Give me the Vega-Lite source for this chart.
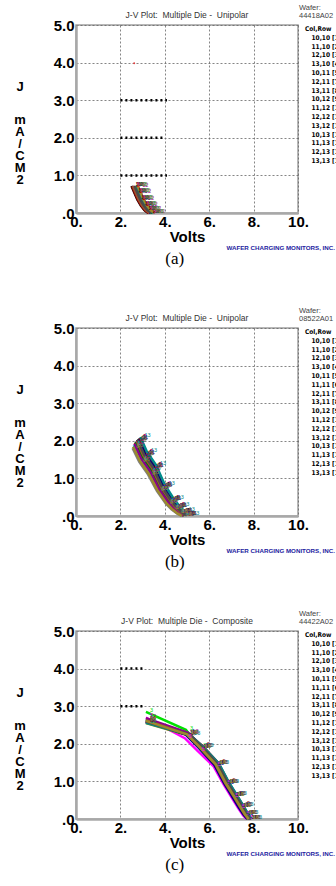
{
"$schema": "https://vega.github.io/schema/vega-lite/v6.json",
"background": "white",
"padding": {"left": 13, "top": 3, "right": 2, "bottom": 0},
"bounds": "flush",
"spacing": 115,
"resolve": {"scale": {"color": "independent"}},
"datasets": {
"a": [
{"d":"10,10 [1]","n":1,"v":2.50,"j":0.72},{"d":"10,10 [1]","n":1,"v":2.62,"j":0.55},{"d":"10,10 [1]","n":1,"v":2.76,"j":0.36},{"d":"10,10 [1]","n":1,"v":2.92,"j":0.20},{"d":"10,10 [1]","n":1,"v":3.08,"j":0.08},{"d":"10,10 [1]","n":1,"v":3.25,"j":0.0},
{"d":"11,10 [2]","n":2,"v":2.55,"j":0.70},{"d":"11,10 [2]","n":2,"v":2.67,"j":0.54},{"d":"11,10 [2]","n":2,"v":2.81,"j":0.35},{"d":"11,10 [2]","n":2,"v":2.97,"j":0.19},{"d":"11,10 [2]","n":2,"v":3.13,"j":0.07},{"d":"11,10 [2]","n":2,"v":3.30,"j":0.0},
{"d":"12,10 [3]","n":3,"v":2.62,"j":0.72},{"d":"12,10 [3]","n":3,"v":2.74,"j":0.56},{"d":"12,10 [3]","n":3,"v":2.88,"j":0.37},{"d":"12,10 [3]","n":3,"v":3.04,"j":0.21},{"d":"12,10 [3]","n":3,"v":3.20,"j":0.08},{"d":"12,10 [3]","n":3,"v":3.37,"j":0.0},
{"d":"13,10 [4]","n":4,"v":2.70,"j":0.71},{"d":"13,10 [4]","n":4,"v":2.82,"j":0.54},{"d":"13,10 [4]","n":4,"v":2.96,"j":0.35},{"d":"13,10 [4]","n":4,"v":3.12,"j":0.19},{"d":"13,10 [4]","n":4,"v":3.28,"j":0.07},{"d":"13,10 [4]","n":4,"v":3.45,"j":0.0},
{"d":"10,11 [5]","n":5,"v":2.58,"j":0.72},{"d":"10,11 [5]","n":5,"v":2.70,"j":0.55},{"d":"10,11 [5]","n":5,"v":2.84,"j":0.36},{"d":"10,11 [5]","n":5,"v":3.00,"j":0.20},{"d":"10,11 [5]","n":5,"v":3.16,"j":0.08},{"d":"10,11 [5]","n":5,"v":3.33,"j":0.0},
{"d":"12,11 [7]","n":7,"v":2.65,"j":0.70},{"d":"12,11 [7]","n":7,"v":2.77,"j":0.53},{"d":"12,11 [7]","n":7,"v":2.91,"j":0.34},{"d":"12,11 [7]","n":7,"v":3.07,"j":0.18},{"d":"12,11 [7]","n":7,"v":3.23,"j":0.07},{"d":"12,11 [7]","n":7,"v":3.40,"j":0.0},
{"d":"13,11 [8]","n":8,"v":2.75,"j":0.72},{"d":"13,11 [8]","n":8,"v":2.87,"j":0.56},{"d":"13,11 [8]","n":8,"v":3.01,"j":0.37},{"d":"13,11 [8]","n":8,"v":3.17,"j":0.21},{"d":"13,11 [8]","n":8,"v":3.33,"j":0.09},{"d":"13,11 [8]","n":8,"v":3.50,"j":0.0},
{"d":"10,12 [9]","n":9,"v":2.53,"j":0.71},{"d":"10,12 [9]","n":9,"v":2.65,"j":0.54},{"d":"10,12 [9]","n":9,"v":2.79,"j":0.35},{"d":"10,12 [9]","n":9,"v":2.95,"j":0.19},{"d":"10,12 [9]","n":9,"v":3.11,"j":0.07},{"d":"10,12 [9]","n":9,"v":3.28,"j":0.0},
{"d":"11,12 [10]","n":10,"v":2.68,"j":0.72},{"d":"11,12 [10]","n":10,"v":2.80,"j":0.55},{"d":"11,12 [10]","n":10,"v":2.94,"j":0.36},{"d":"11,12 [10]","n":10,"v":3.10,"j":0.20},{"d":"11,12 [10]","n":10,"v":3.26,"j":0.08},{"d":"11,12 [10]","n":10,"v":3.43,"j":0.0},
{"d":"12,12 [11]","n":11,"v":2.60,"j":0.71},{"d":"12,12 [11]","n":11,"v":2.72,"j":0.55},{"d":"12,12 [11]","n":11,"v":2.86,"j":0.36},{"d":"12,12 [11]","n":11,"v":3.02,"j":0.20},{"d":"12,12 [11]","n":11,"v":3.18,"j":0.08},{"d":"12,12 [11]","n":11,"v":3.35,"j":0.0},
{"d":"13,12 [12]","n":12,"v":2.80,"j":0.70},{"d":"13,12 [12]","n":12,"v":2.92,"j":0.54},{"d":"13,12 [12]","n":12,"v":3.06,"j":0.35},{"d":"13,12 [12]","n":12,"v":3.22,"j":0.19},{"d":"13,12 [12]","n":12,"v":3.38,"j":0.07},{"d":"13,12 [12]","n":12,"v":3.55,"j":0.0},
{"d":"10,13 [13]","n":13,"v":2.72,"j":0.72},{"d":"10,13 [13]","n":13,"v":2.84,"j":0.56},{"d":"10,13 [13]","n":13,"v":2.98,"j":0.37},{"d":"10,13 [13]","n":13,"v":3.14,"j":0.21},{"d":"10,13 [13]","n":13,"v":3.30,"j":0.09},{"d":"10,13 [13]","n":13,"v":3.47,"j":0.0},
{"d":"11,13 [14]","n":14,"v":2.56,"j":0.72},{"d":"11,13 [14]","n":14,"v":2.68,"j":0.55},{"d":"11,13 [14]","n":14,"v":2.82,"j":0.36},{"d":"11,13 [14]","n":14,"v":2.98,"j":0.20},{"d":"11,13 [14]","n":14,"v":3.14,"j":0.08},{"d":"11,13 [14]","n":14,"v":3.31,"j":0.0},
{"d":"12,13 [15]","n":15,"v":2.64,"j":0.71},{"d":"12,13 [15]","n":15,"v":2.76,"j":0.54},{"d":"12,13 [15]","n":15,"v":2.90,"j":0.35},{"d":"12,13 [15]","n":15,"v":3.06,"j":0.19},{"d":"12,13 [15]","n":15,"v":3.22,"j":0.07},{"d":"12,13 [15]","n":15,"v":3.39,"j":0.0},
{"d":"13,13 [16]","n":16,"v":2.78,"j":0.72},{"d":"13,13 [16]","n":16,"v":2.90,"j":0.55},{"d":"13,13 [16]","n":16,"v":3.04,"j":0.36},{"d":"13,13 [16]","n":16,"v":3.20,"j":0.20},{"d":"13,13 [16]","n":16,"v":3.36,"j":0.08},{"d":"13,13 [16]","n":16,"v":3.53,"j":0.0}
],
"b": [
{"d":"10,10 [1]","n":1,"v":2.75,"j":2.02},{"d":"10,10 [1]","n":1,"v":3.05,"j":1.62},{"d":"10,10 [1]","n":1,"v":3.45,"j":1.28},{"d":"10,10 [1]","n":1,"v":3.85,"j":0.78},{"d":"10,10 [1]","n":1,"v":4.25,"j":0.42},{"d":"10,10 [1]","n":1,"v":4.50,"j":0.24},{"d":"10,10 [1]","n":1,"v":4.75,"j":0.10},{"d":"10,10 [1]","n":1,"v":4.95,"j":0.02},
{"d":"11,10 [2]","n":2,"v":2.65,"j":1.95},{"d":"11,10 [2]","n":2,"v":2.95,"j":1.56},{"d":"11,10 [2]","n":2,"v":3.35,"j":1.22},{"d":"11,10 [2]","n":2,"v":3.75,"j":0.74},{"d":"11,10 [2]","n":2,"v":4.15,"j":0.40},{"d":"11,10 [2]","n":2,"v":4.40,"j":0.22},{"d":"11,10 [2]","n":2,"v":4.65,"j":0.09},{"d":"11,10 [2]","n":2,"v":4.85,"j":0.01},
{"d":"12,10 [3]","n":3,"v":2.83,"j":2.06},{"d":"12,10 [3]","n":3,"v":3.13,"j":1.66},{"d":"12,10 [3]","n":3,"v":3.53,"j":1.32},{"d":"12,10 [3]","n":3,"v":3.93,"j":0.80},{"d":"12,10 [3]","n":3,"v":4.33,"j":0.44},{"d":"12,10 [3]","n":3,"v":4.58,"j":0.25},{"d":"12,10 [3]","n":3,"v":4.83,"j":0.11},{"d":"12,10 [3]","n":3,"v":5.03,"j":0.02},
{"d":"13,10 [4]","n":4,"v":2.70,"j":1.98},{"d":"13,10 [4]","n":4,"v":3.00,"j":1.59},{"d":"13,10 [4]","n":4,"v":3.40,"j":1.25},{"d":"13,10 [4]","n":4,"v":3.80,"j":0.76},{"d":"13,10 [4]","n":4,"v":4.20,"j":0.41},{"d":"13,10 [4]","n":4,"v":4.45,"j":0.23},{"d":"13,10 [4]","n":4,"v":4.70,"j":0.09},{"d":"13,10 [4]","n":4,"v":4.90,"j":0.02},
{"d":"10,11 [5]","n":5,"v":2.87,"j":2.08},{"d":"10,11 [5]","n":5,"v":3.17,"j":1.68},{"d":"10,11 [5]","n":5,"v":3.57,"j":1.34},{"d":"10,11 [5]","n":5,"v":3.97,"j":0.82},{"d":"10,11 [5]","n":5,"v":4.37,"j":0.45},{"d":"10,11 [5]","n":5,"v":4.62,"j":0.26},{"d":"10,11 [5]","n":5,"v":4.87,"j":0.11},{"d":"10,11 [5]","n":5,"v":5.07,"j":0.03},
{"d":"11,11 [6]","n":6,"v":2.60,"j":1.88},{"d":"11,11 [6]","n":6,"v":2.90,"j":1.50},{"d":"11,11 [6]","n":6,"v":3.30,"j":1.16},{"d":"11,11 [6]","n":6,"v":3.70,"j":0.70},{"d":"11,11 [6]","n":6,"v":4.10,"j":0.36},{"d":"11,11 [6]","n":6,"v":4.35,"j":0.20},{"d":"11,11 [6]","n":6,"v":4.60,"j":0.08},{"d":"11,11 [6]","n":6,"v":4.80,"j":0.01},
{"d":"12,11 [7]","n":7,"v":2.79,"j":2.04},{"d":"12,11 [7]","n":7,"v":3.09,"j":1.64},{"d":"12,11 [7]","n":7,"v":3.49,"j":1.30},{"d":"12,11 [7]","n":7,"v":3.89,"j":0.79},{"d":"12,11 [7]","n":7,"v":4.29,"j":0.43},{"d":"12,11 [7]","n":7,"v":4.54,"j":0.24},{"d":"12,11 [7]","n":7,"v":4.79,"j":0.10},{"d":"12,11 [7]","n":7,"v":4.99,"j":0.02},
{"d":"13,11 [8]","n":8,"v":2.55,"j":1.80},{"d":"13,11 [8]","n":8,"v":2.85,"j":1.44},{"d":"13,11 [8]","n":8,"v":3.25,"j":1.10},{"d":"13,11 [8]","n":8,"v":3.65,"j":0.66},{"d":"13,11 [8]","n":8,"v":4.05,"j":0.33},{"d":"13,11 [8]","n":8,"v":4.30,"j":0.18},{"d":"13,11 [8]","n":8,"v":4.55,"j":0.07},{"d":"13,11 [8]","n":8,"v":4.75,"j":0.0},
{"d":"10,12 [9]","n":9,"v":2.85,"j":2.07},{"d":"10,12 [9]","n":9,"v":3.15,"j":1.67},{"d":"10,12 [9]","n":9,"v":3.55,"j":1.33},{"d":"10,12 [9]","n":9,"v":3.95,"j":0.81},{"d":"10,12 [9]","n":9,"v":4.35,"j":0.45},{"d":"10,12 [9]","n":9,"v":4.60,"j":0.26},{"d":"10,12 [9]","n":9,"v":4.85,"j":0.11},{"d":"10,12 [9]","n":9,"v":5.05,"j":0.03},
{"d":"11,12 [10]","n":10,"v":2.67,"j":1.96},{"d":"11,12 [10]","n":10,"v":2.97,"j":1.57},{"d":"11,12 [10]","n":10,"v":3.37,"j":1.23},{"d":"11,12 [10]","n":10,"v":3.77,"j":0.75},{"d":"11,12 [10]","n":10,"v":4.17,"j":0.40},{"d":"11,12 [10]","n":10,"v":4.42,"j":0.22},{"d":"11,12 [10]","n":10,"v":4.67,"j":0.09},{"d":"11,12 [10]","n":10,"v":4.87,"j":0.01},
{"d":"12,12 [11]","n":11,"v":2.81,"j":2.05},{"d":"12,12 [11]","n":11,"v":3.11,"j":1.65},{"d":"12,12 [11]","n":11,"v":3.51,"j":1.31},{"d":"12,12 [11]","n":11,"v":3.91,"j":0.80},{"d":"12,12 [11]","n":11,"v":4.31,"j":0.43},{"d":"12,12 [11]","n":11,"v":4.56,"j":0.25},{"d":"12,12 [11]","n":11,"v":4.81,"j":0.10},{"d":"12,12 [11]","n":11,"v":5.01,"j":0.02},
{"d":"13,12 [12]","n":12,"v":2.63,"j":1.92},{"d":"13,12 [12]","n":12,"v":2.93,"j":1.53},{"d":"13,12 [12]","n":12,"v":3.33,"j":1.19},{"d":"13,12 [12]","n":12,"v":3.73,"j":0.72},{"d":"13,12 [12]","n":12,"v":4.13,"j":0.38},{"d":"13,12 [12]","n":12,"v":4.38,"j":0.21},{"d":"13,12 [12]","n":12,"v":4.63,"j":0.08},{"d":"13,12 [12]","n":12,"v":4.83,"j":0.01},
{"d":"10,13 [13]","n":13,"v":2.90,"j":2.10},{"d":"10,13 [13]","n":13,"v":3.20,"j":1.70},{"d":"10,13 [13]","n":13,"v":3.60,"j":1.36},{"d":"10,13 [13]","n":13,"v":4.00,"j":0.83},{"d":"10,13 [13]","n":13,"v":4.40,"j":0.46},{"d":"10,13 [13]","n":13,"v":4.65,"j":0.27},{"d":"10,13 [13]","n":13,"v":4.90,"j":0.12},{"d":"10,13 [13]","n":13,"v":5.10,"j":0.03},
{"d":"11,13 [14]","n":14,"v":2.73,"j":2.00},{"d":"11,13 [14]","n":14,"v":3.03,"j":1.61},{"d":"11,13 [14]","n":14,"v":3.43,"j":1.27},{"d":"11,13 [14]","n":14,"v":3.83,"j":0.77},{"d":"11,13 [14]","n":14,"v":4.23,"j":0.42},{"d":"11,13 [14]","n":14,"v":4.48,"j":0.23},{"d":"11,13 [14]","n":14,"v":4.73,"j":0.10},{"d":"11,13 [14]","n":14,"v":4.93,"j":0.02},
{"d":"12,13 [15]","n":15,"v":2.77,"j":2.03},{"d":"12,13 [15]","n":15,"v":3.07,"j":1.63},{"d":"12,13 [15]","n":15,"v":3.47,"j":1.29},{"d":"12,13 [15]","n":15,"v":3.87,"j":0.78},{"d":"12,13 [15]","n":15,"v":4.27,"j":0.42},{"d":"12,13 [15]","n":15,"v":4.52,"j":0.24},{"d":"12,13 [15]","n":15,"v":4.77,"j":0.10},{"d":"12,13 [15]","n":15,"v":4.97,"j":0.02},
{"d":"13,13 [16]","n":16,"v":2.57,"j":1.84},{"d":"13,13 [16]","n":16,"v":2.87,"j":1.47},{"d":"13,13 [16]","n":16,"v":3.27,"j":1.13},{"d":"13,13 [16]","n":16,"v":3.67,"j":0.68},{"d":"13,13 [16]","n":16,"v":4.07,"j":0.34},{"d":"13,13 [16]","n":16,"v":4.32,"j":0.19},{"d":"13,13 [16]","n":16,"v":4.57,"j":0.07},{"d":"13,13 [16]","n":16,"v":4.77,"j":0.0}
],
"c": [
{"d":"10,10 [1]","n":1,"v":3.15,"j":2.58},{"d":"10,10 [1]","n":1,"v":5.00,"j":2.24},{"d":"10,10 [1]","n":1,"v":5.60,"j":1.90},{"d":"10,10 [1]","n":1,"v":6.30,"j":1.45},{"d":"10,10 [1]","n":1,"v":6.75,"j":0.95},{"d":"10,10 [1]","n":1,"v":7.10,"j":0.62},{"d":"10,10 [1]","n":1,"v":7.40,"j":0.33},{"d":"10,10 [1]","n":1,"v":7.62,"j":0.12},{"d":"10,10 [1]","n":1,"v":7.78,"j":0.0},
{"d":"11,10 [2]","n":2,"v":3.15,"j":2.62},{"d":"11,10 [2]","n":2,"v":5.05,"j":2.26},{"d":"11,10 [2]","n":2,"v":5.65,"j":1.91},{"d":"11,10 [2]","n":2,"v":6.35,"j":1.46},{"d":"11,10 [2]","n":2,"v":6.80,"j":0.96},{"d":"11,10 [2]","n":2,"v":7.15,"j":0.63},{"d":"11,10 [2]","n":2,"v":7.45,"j":0.34},{"d":"11,10 [2]","n":2,"v":7.67,"j":0.12},{"d":"11,10 [2]","n":2,"v":7.83,"j":0.0},
{"d":"12,10 [3]","n":3,"v":3.15,"j":2.85},{"d":"12,10 [3]","n":3,"v":4.95,"j":2.37},{"d":"12,10 [3]","n":3,"v":5.55,"j":1.92},{"d":"12,10 [3]","n":3,"v":6.25,"j":1.44},{"d":"12,10 [3]","n":3,"v":6.70,"j":0.94},{"d":"12,10 [3]","n":3,"v":7.05,"j":0.61},{"d":"12,10 [3]","n":3,"v":7.35,"j":0.32},{"d":"12,10 [3]","n":3,"v":7.57,"j":0.11},{"d":"12,10 [3]","n":3,"v":7.73,"j":0.0},
{"d":"13,10 [4]","n":4,"v":3.15,"j":2.60},{"d":"13,10 [4]","n":4,"v":5.10,"j":2.25},{"d":"13,10 [4]","n":4,"v":5.70,"j":1.92},{"d":"13,10 [4]","n":4,"v":6.40,"j":1.47},{"d":"13,10 [4]","n":4,"v":6.85,"j":0.97},{"d":"13,10 [4]","n":4,"v":7.20,"j":0.64},{"d":"13,10 [4]","n":4,"v":7.50,"j":0.35},{"d":"13,10 [4]","n":4,"v":7.72,"j":0.13},{"d":"13,10 [4]","n":4,"v":7.88,"j":0.0},
{"d":"10,11 [5]","n":5,"v":3.15,"j":2.70},{"d":"10,11 [5]","n":5,"v":4.90,"j":2.15},{"d":"10,11 [5]","n":5,"v":5.50,"j":1.80},{"d":"10,11 [5]","n":5,"v":6.20,"j":1.40},{"d":"10,11 [5]","n":5,"v":6.65,"j":0.92},{"d":"10,11 [5]","n":5,"v":7.00,"j":0.58},{"d":"10,11 [5]","n":5,"v":7.30,"j":0.30},{"d":"10,11 [5]","n":5,"v":7.52,"j":0.10},{"d":"10,11 [5]","n":5,"v":7.68,"j":0.0},
{"d":"11,11 [6]","n":6,"v":3.15,"j":2.66},{"d":"11,11 [6]","n":6,"v":5.02,"j":2.28},{"d":"11,11 [6]","n":6,"v":5.62,"j":1.91},{"d":"11,11 [6]","n":6,"v":6.32,"j":1.46},{"d":"11,11 [6]","n":6,"v":6.77,"j":0.96},{"d":"11,11 [6]","n":6,"v":7.12,"j":0.63},{"d":"11,11 [6]","n":6,"v":7.42,"j":0.34},{"d":"11,11 [6]","n":6,"v":7.64,"j":0.12},{"d":"11,11 [6]","n":6,"v":7.80,"j":0.0},
{"d":"12,11 [7]","n":7,"v":3.15,"j":2.55},{"d":"12,11 [7]","n":7,"v":5.08,"j":2.22},{"d":"12,11 [7]","n":7,"v":5.68,"j":1.89},{"d":"12,11 [7]","n":7,"v":6.38,"j":1.45},{"d":"12,11 [7]","n":7,"v":6.83,"j":0.95},{"d":"12,11 [7]","n":7,"v":7.18,"j":0.62},{"d":"12,11 [7]","n":7,"v":7.48,"j":0.33},{"d":"12,11 [7]","n":7,"v":7.70,"j":0.12},{"d":"12,11 [7]","n":7,"v":7.86,"j":0.0},
{"d":"13,11 [8]","n":8,"v":3.15,"j":2.62},{"d":"13,11 [8]","n":8,"v":4.97,"j":2.26},{"d":"13,11 [8]","n":8,"v":5.57,"j":1.90},{"d":"13,11 [8]","n":8,"v":6.27,"j":1.45},{"d":"13,11 [8]","n":8,"v":6.72,"j":0.95},{"d":"13,11 [8]","n":8,"v":7.07,"j":0.62},{"d":"13,11 [8]","n":8,"v":7.37,"j":0.33},{"d":"13,11 [8]","n":8,"v":7.59,"j":0.12},{"d":"13,11 [8]","n":8,"v":7.75,"j":0.0},
{"d":"10,12 [9]","n":9,"v":3.15,"j":2.58},{"d":"10,12 [9]","n":9,"v":5.12,"j":2.24},{"d":"10,12 [9]","n":9,"v":5.72,"j":1.93},{"d":"10,12 [9]","n":9,"v":6.42,"j":1.48},{"d":"10,12 [9]","n":9,"v":6.87,"j":0.98},{"d":"10,12 [9]","n":9,"v":7.22,"j":0.65},{"d":"10,12 [9]","n":9,"v":7.52,"j":0.36},{"d":"10,12 [9]","n":9,"v":7.74,"j":0.13},{"d":"10,12 [9]","n":9,"v":7.90,"j":0.0},
{"d":"11,12 [10]","n":10,"v":3.15,"j":2.64},{"d":"11,12 [10]","n":10,"v":5.04,"j":2.27},{"d":"11,12 [10]","n":10,"v":5.64,"j":1.90},{"d":"11,12 [10]","n":10,"v":6.34,"j":1.45},{"d":"11,12 [10]","n":10,"v":6.79,"j":0.95},{"d":"11,12 [10]","n":10,"v":7.14,"j":0.62},{"d":"11,12 [10]","n":10,"v":7.44,"j":0.33},{"d":"11,12 [10]","n":10,"v":7.66,"j":0.12},{"d":"11,12 [10]","n":10,"v":7.82,"j":0.0},
{"d":"12,12 [11]","n":11,"v":3.15,"j":2.60},{"d":"12,12 [11]","n":11,"v":4.93,"j":2.25},{"d":"12,12 [11]","n":11,"v":5.53,"j":1.89},{"d":"12,12 [11]","n":11,"v":6.23,"j":1.44},{"d":"12,12 [11]","n":11,"v":6.68,"j":0.94},{"d":"12,12 [11]","n":11,"v":7.03,"j":0.60},{"d":"12,12 [11]","n":11,"v":7.33,"j":0.31},{"d":"12,12 [11]","n":11,"v":7.55,"j":0.11},{"d":"12,12 [11]","n":11,"v":7.71,"j":0.0},
{"d":"13,12 [12]","n":12,"v":3.15,"j":2.68},{"d":"13,12 [12]","n":12,"v":5.06,"j":2.29},{"d":"13,12 [12]","n":12,"v":5.66,"j":1.92},{"d":"13,12 [12]","n":12,"v":6.36,"j":1.47},{"d":"13,12 [12]","n":12,"v":6.81,"j":0.97},{"d":"13,12 [12]","n":12,"v":7.16,"j":0.64},{"d":"13,12 [12]","n":12,"v":7.46,"j":0.35},{"d":"13,12 [12]","n":12,"v":7.68,"j":0.13},{"d":"13,12 [12]","n":12,"v":7.84,"j":0.0},
{"d":"10,13 [13]","n":13,"v":3.15,"j":2.56},{"d":"10,13 [13]","n":13,"v":5.14,"j":2.23},{"d":"10,13 [13]","n":13,"v":5.74,"j":1.91},{"d":"10,13 [13]","n":13,"v":6.44,"j":1.47},{"d":"10,13 [13]","n":13,"v":6.89,"j":0.97},{"d":"10,13 [13]","n":13,"v":7.24,"j":0.64},{"d":"10,13 [13]","n":13,"v":7.54,"j":0.35},{"d":"10,13 [13]","n":13,"v":7.76,"j":0.13},{"d":"10,13 [13]","n":13,"v":7.92,"j":0.0},
{"d":"11,13 [14]","n":14,"v":3.15,"j":2.63},{"d":"11,13 [14]","n":14,"v":4.98,"j":2.26},{"d":"11,13 [14]","n":14,"v":5.58,"j":1.90},{"d":"11,13 [14]","n":14,"v":6.28,"j":1.45},{"d":"11,13 [14]","n":14,"v":6.73,"j":0.95},{"d":"11,13 [14]","n":14,"v":7.08,"j":0.62},{"d":"11,13 [14]","n":14,"v":7.38,"j":0.33},{"d":"11,13 [14]","n":14,"v":7.60,"j":0.12},{"d":"11,13 [14]","n":14,"v":7.76,"j":0.0},
{"d":"12,13 [15]","n":15,"v":3.15,"j":2.59},{"d":"12,13 [15]","n":15,"v":5.09,"j":2.25},{"d":"12,13 [15]","n":15,"v":5.69,"j":1.91},{"d":"12,13 [15]","n":15,"v":6.39,"j":1.46},{"d":"12,13 [15]","n":15,"v":6.84,"j":0.96},{"d":"12,13 [15]","n":15,"v":7.19,"j":0.63},{"d":"12,13 [15]","n":15,"v":7.49,"j":0.34},{"d":"12,13 [15]","n":15,"v":7.71,"j":0.12},{"d":"12,13 [15]","n":15,"v":7.87,"j":0.0},
{"d":"13,13 [16]","n":16,"v":3.15,"j":2.61},{"d":"13,13 [16]","n":16,"v":5.00,"j":2.25},{"d":"13,13 [16]","n":16,"v":5.60,"j":1.90},{"d":"13,13 [16]","n":16,"v":6.30,"j":1.45},{"d":"13,13 [16]","n":16,"v":6.75,"j":0.95},{"d":"13,13 [16]","n":16,"v":7.10,"j":0.62},{"d":"13,13 [16]","n":16,"v":7.40,"j":0.33},{"d":"13,13 [16]","n":16,"v":7.62,"j":0.12},{"d":"13,13 [16]","n":16,"v":7.78,"j":0.0}
]
},
"vconcat": [
{
"width": 222, "height": 188,
"layer": [
{"data": {"values": [{"g":1,"v":2.0,"j":1.0},{"g":1,"v":4.1,"j":1.0},{"g":2,"v":2.0,"j":2.0},{"g":2,"v":4.0,"j":2.0},{"g":3,"v":2.0,"j":3.0},{"g":3,"v":4.1,"j":3.0}]},
 "mark": {"type": "line", "color": "#000", "strokeWidth": 2.5, "strokeDash": [2, 3]},
 "encoding": {"x": {"field": "v", "type": "quantitative", "scale": {"domain": [0, 10], "nice": false, "zero": false}, "axis": {"values": [0,2,4,6,8,10], "labelExpr": "datum.value + '.'", "title": "Volts", "titleFontSize": 15, "titlePadding": 0, "labelPadding": 1, "labelFlush": false, "labelOverlap": false}},
  "y": {"field": "j", "type": "quantitative", "scale": {"domain": [0, 5], "nice": false, "zero": false}, "axis": {"values": [0,1,2,3,4,5], "labelExpr": "datum.value == 0 ? '.0' : format(datum.value, '.1f')", "title": null, "labelFlush": false, "labelOverlap": false}},
  "detail": {"field": "g"}}},
{"data": {"values": [{"v": 2.62, "j": 3.98}]}, "mark": {"type": "point", "filled": true, "color": "#e04040", "size": 4, "opacity": 1},
 "encoding": {"x": {"field": "v", "type": "quantitative", "scale": {"domain": [0, 10], "nice": false, "zero": false}, "axis": {"values": [0,2,4,6,8,10], "labelExpr": "datum.value + '.'", "title": "Volts", "titleFontSize": 15, "titlePadding": 0, "labelPadding": 1, "labelFlush": false, "labelOverlap": false}}, "y": {"field": "j", "type": "quantitative", "scale": {"domain": [0, 5], "nice": false, "zero": false}, "axis": {"values": [0,1,2,3,4,5], "labelExpr": "datum.value == 0 ? '.0' : format(datum.value, '.1f')", "title": null, "labelFlush": false, "labelOverlap": false}}}},
{"data": {"name": "a"}, "mark": {"type": "line", "strokeWidth": 2.5},
 "encoding": {"x": {"field": "v", "type": "quantitative", "scale": {"domain": [0, 10], "nice": false, "zero": false}, "axis": {"values": [0,2,4,6,8,10], "labelExpr": "datum.value + '.'", "title": "Volts", "titleFontSize": 15, "titlePadding": 0, "labelPadding": 1, "labelFlush": false, "labelOverlap": false}}, "y": {"field": "j", "type": "quantitative", "scale": {"domain": [0, 5], "nice": false, "zero": false}, "axis": {"values": [0,1,2,3,4,5], "labelExpr": "datum.value == 0 ? '.0' : format(datum.value, '.1f')", "title": null, "labelFlush": false, "labelOverlap": false}},
  "color": {"field": "d", "type": "nominal",
   "scale": {"domain": ["10,10 [1]","11,10 [2]","12,10 [3]","13,10 [4]","10,11 [5]","12,11 [7]","13,11 [8]","10,12 [9]","11,12 [10]","12,12 [11]","13,12 [12]","10,13 [13]","11,13 [14]","12,13 [15]","13,13 [16]"],
             "range": ["#000000","#ff0000","#00e000","#0000ff","#ff00ff","#8b8b00","#7f7f7f","#8b0000","#007f00","#00007f","#8b008b","#008b8b","#a0522d","#4b4b4b","#9c8a2c"]},
   "legend": {"title": "Col,Row", "labelExpr": "slice(datum.label, 0, 9)"}}}},
{"data": {"name": "a"}, "mark": {"type": "text", "fontSize": 5.5, "dx": 4, "dy": -2, "align": "left"},
 "encoding": {"x": {"field": "v", "type": "quantitative", "scale": {"domain": [0, 10], "nice": false, "zero": false}, "axis": {"values": [0,2,4,6,8,10], "labelExpr": "datum.value + '.'", "title": "Volts", "titleFontSize": 15, "titlePadding": 0, "labelPadding": 1, "labelFlush": false, "labelOverlap": false}}, "y": {"field": "j", "type": "quantitative", "scale": {"domain": [0, 5], "nice": false, "zero": false}, "axis": {"values": [0,1,2,3,4,5], "labelExpr": "datum.value == 0 ? '.0' : format(datum.value, '.1f')", "title": null, "labelFlush": false, "labelOverlap": false}},
  "text": {"field": "n"}, "color": {"field": "d", "type": "nominal"}}},
{"data": {"values": [{}]}, "mark": {"type": "text", "align": "center", "baseline": "middle", "fontSize": 8.5, "color": "#333", "dy": -10},
 "encoding": {"x": {"datum": 5, "type": "quantitative", "scale": {"domain": [0, 10], "nice": false, "zero": false}, "axis": {"values": [0,2,4,6,8,10], "labelExpr": "datum.value + '.'", "title": "Volts", "titleFontSize": 15, "titlePadding": 0, "labelPadding": 1, "labelFlush": false, "labelOverlap": false}}, "y": {"datum": 5, "type": "quantitative", "scale": {"domain": [0, 5], "nice": false, "zero": false}, "axis": {"values": [0,1,2,3,4,5], "labelExpr": "datum.value == 0 ? '.0' : format(datum.value, '.1f')", "title": null, "labelFlush": false, "labelOverlap": false}}, "text": {"value": "J-V Plot:\u00a0 Multiple Die -\u00a0 Unipolar"}}},
{"data": {"values": [{}]}, "mark": {"type": "text", "align": "center", "baseline": "middle", "fontSize": 13, "fontWeight": "bold", "color": "#000"},
 "encoding": {"x": {"datum": -2.52, "type": "quantitative", "scale": {"domain": [0, 10], "nice": false, "zero": false}, "axis": {"values": [0,2,4,6,8,10], "labelExpr": "datum.value + '.'", "title": "Volts", "titleFontSize": 15, "titlePadding": 0, "labelPadding": 1, "labelFlush": false, "labelOverlap": false}}, "y": {"datum": 3.35, "type": "quantitative", "scale": {"domain": [0, 5], "nice": false, "zero": false}, "axis": {"values": [0,1,2,3,4,5], "labelExpr": "datum.value == 0 ? '.0' : format(datum.value, '.1f')", "title": null, "labelFlush": false, "labelOverlap": false}},
  "text": {"value": "J"}}},
{"data": {"values": [{}]}, "mark": {"type": "text", "align": "center", "baseline": "top", "fontSize": 13, "fontWeight": "bold", "color": "#000", "lineHeight": 12},
 "encoding": {"x": {"datum": -2.52, "type": "quantitative", "scale": {"domain": [0, 10], "nice": false, "zero": false}, "axis": {"values": [0,2,4,6,8,10], "labelExpr": "datum.value + '.'", "title": "Volts", "titleFontSize": 15, "titlePadding": 0, "labelPadding": 1, "labelFlush": false, "labelOverlap": false}}, "y": {"datum": 2.63, "type": "quantitative", "scale": {"domain": [0, 5], "nice": false, "zero": false}, "axis": {"values": [0,1,2,3,4,5], "labelExpr": "datum.value == 0 ? '.0' : format(datum.value, '.1f')", "title": null, "labelFlush": false, "labelOverlap": false}},
  "text": {"value": ["m", "A", "/", "C", "M", "2"]}}},
{"data": {"values": [{}]}, "mark": {"type": "text", "align": "left", "baseline": "top", "dx": 1, "dy": -21, "fontSize": 7.5, "color": "#444", "lineHeight": 8},
 "encoding": {"x": {"datum": 10, "type": "quantitative", "scale": {"domain": [0, 10], "nice": false, "zero": false}, "axis": {"values": [0,2,4,6,8,10], "labelExpr": "datum.value + '.'", "title": "Volts", "titleFontSize": 15, "titlePadding": 0, "labelPadding": 1, "labelFlush": false, "labelOverlap": false}}, "y": {"datum": 5, "type": "quantitative", "scale": {"domain": [0, 5], "nice": false, "zero": false}, "axis": {"values": [0,1,2,3,4,5], "labelExpr": "datum.value == 0 ? '.0' : format(datum.value, '.1f')", "title": null, "labelFlush": false, "labelOverlap": false}}, "text": {"value": ["Wafer:", "44418A02"]}}},
{"data": {"values": [{}]}, "mark": {"type": "text", "align": "right", "baseline": "middle", "dx": 37, "dy": 35, "fontSize": 6.2, "fontWeight": "bold", "color": "#1c1ca0"},
 "encoding": {"x": {"datum": 10, "type": "quantitative", "scale": {"domain": [0, 10], "nice": false, "zero": false}, "axis": {"values": [0,2,4,6,8,10], "labelExpr": "datum.value + '.'", "title": "Volts", "titleFontSize": 15, "titlePadding": 0, "labelPadding": 1, "labelFlush": false, "labelOverlap": false}}, "y": {"datum": 0, "type": "quantitative", "scale": {"domain": [0, 5], "nice": false, "zero": false}, "axis": {"values": [0,1,2,3,4,5], "labelExpr": "datum.value == 0 ? '.0' : format(datum.value, '.1f')", "title": null, "labelFlush": false, "labelOverlap": false}}, "text": {"value": "WAFER CHARGING MONITORS, INC."}}},
{"data": {"values": [{}]}, "mark": {"type": "text", "align": "center", "baseline": "middle", "dy": 46, "fontSize": 17, "font": "Liberation Serif", "color": "#000"},
 "encoding": {"x": {"datum": 4.45, "type": "quantitative", "scale": {"domain": [0, 10], "nice": false, "zero": false}, "axis": {"values": [0,2,4,6,8,10], "labelExpr": "datum.value + '.'", "title": "Volts", "titleFontSize": 15, "titlePadding": 0, "labelPadding": 1, "labelFlush": false, "labelOverlap": false}}, "y": {"datum": 0, "type": "quantitative", "scale": {"domain": [0, 5], "nice": false, "zero": false}, "axis": {"values": [0,1,2,3,4,5], "labelExpr": "datum.value == 0 ? '.0' : format(datum.value, '.1f')", "title": null, "labelFlush": false, "labelOverlap": false}}, "text": {"value": "(a)"}}}
]
},
{
"width": 222, "height": 188,
"layer": [
{"data": {"name": "b"}, "mark": {"type": "line", "strokeWidth": 2.5},
 "encoding": {"x": {"field": "v", "type": "quantitative", "scale": {"domain": [0, 10], "nice": false, "zero": false}, "axis": {"values": [0,2,4,6,8,10], "labelExpr": "datum.value + '.'", "title": "Volts", "titleFontSize": 15, "titlePadding": 0, "labelPadding": 1, "labelFlush": false, "labelOverlap": false}},
  "y": {"field": "j", "type": "quantitative", "scale": {"domain": [0, 5], "nice": false, "zero": false}, "axis": {"values": [0,1,2,3,4,5], "labelExpr": "datum.value == 0 ? '.0' : format(datum.value, '.1f')", "title": null, "labelFlush": false, "labelOverlap": false}},
  "color": {"field": "d", "type": "nominal",
   "scale": {"domain": ["10,10 [1]","11,10 [2]","12,10 [3]","13,10 [4]","10,11 [5]","11,11 [6]","12,11 [7]","13,11 [8]","10,12 [9]","11,12 [10]","12,12 [11]","13,12 [12]","10,13 [13]","11,13 [14]","12,13 [15]","13,13 [16]"],
             "range": ["#000000","#ff0000","#00e000","#0000ff","#ff00ff","#00c8c8","#8b8b00","#7f7f7f","#8b0000","#007f00","#00007f","#8b008b","#008b8b","#a0522d","#4b4b4b","#9c8a2c"]},
   "legend": {"title": "Col,Row", "labelExpr": "slice(datum.label, 0, 9)"}}}},
{"data": {"name": "b"}, "mark": {"type": "text", "fontSize": 5.5, "dx": 4, "dy": -2, "align": "left"},
 "encoding": {"x": {"field": "v", "type": "quantitative", "scale": {"domain": [0, 10], "nice": false, "zero": false}, "axis": {"values": [0,2,4,6,8,10], "labelExpr": "datum.value + '.'", "title": "Volts", "titleFontSize": 15, "titlePadding": 0, "labelPadding": 1, "labelFlush": false, "labelOverlap": false}}, "y": {"field": "j", "type": "quantitative", "scale": {"domain": [0, 5], "nice": false, "zero": false}, "axis": {"values": [0,1,2,3,4,5], "labelExpr": "datum.value == 0 ? '.0' : format(datum.value, '.1f')", "title": null, "labelFlush": false, "labelOverlap": false}},
  "text": {"field": "n"}, "color": {"field": "d", "type": "nominal"}}},
{"data": {"values": [{}]}, "mark": {"type": "text", "align": "center", "baseline": "middle", "fontSize": 8.5, "color": "#333", "dy": -10},
 "encoding": {"x": {"datum": 5, "type": "quantitative", "scale": {"domain": [0, 10], "nice": false, "zero": false}, "axis": {"values": [0,2,4,6,8,10], "labelExpr": "datum.value + '.'", "title": "Volts", "titleFontSize": 15, "titlePadding": 0, "labelPadding": 1, "labelFlush": false, "labelOverlap": false}}, "y": {"datum": 5, "type": "quantitative", "scale": {"domain": [0, 5], "nice": false, "zero": false}, "axis": {"values": [0,1,2,3,4,5], "labelExpr": "datum.value == 0 ? '.0' : format(datum.value, '.1f')", "title": null, "labelFlush": false, "labelOverlap": false}}, "text": {"value": "J-V Plot:\u00a0 Multiple Die -\u00a0 Unipolar"}}},
{"data": {"values": [{}]}, "mark": {"type": "text", "align": "center", "baseline": "middle", "fontSize": 13, "fontWeight": "bold", "color": "#000"},
 "encoding": {"x": {"datum": -2.52, "type": "quantitative", "scale": {"domain": [0, 10], "nice": false, "zero": false}, "axis": {"values": [0,2,4,6,8,10], "labelExpr": "datum.value + '.'", "title": "Volts", "titleFontSize": 15, "titlePadding": 0, "labelPadding": 1, "labelFlush": false, "labelOverlap": false}}, "y": {"datum": 3.35, "type": "quantitative", "scale": {"domain": [0, 5], "nice": false, "zero": false}, "axis": {"values": [0,1,2,3,4,5], "labelExpr": "datum.value == 0 ? '.0' : format(datum.value, '.1f')", "title": null, "labelFlush": false, "labelOverlap": false}},
  "text": {"value": "J"}}},
{"data": {"values": [{}]}, "mark": {"type": "text", "align": "center", "baseline": "top", "fontSize": 13, "fontWeight": "bold", "color": "#000", "lineHeight": 12},
 "encoding": {"x": {"datum": -2.52, "type": "quantitative", "scale": {"domain": [0, 10], "nice": false, "zero": false}, "axis": {"values": [0,2,4,6,8,10], "labelExpr": "datum.value + '.'", "title": "Volts", "titleFontSize": 15, "titlePadding": 0, "labelPadding": 1, "labelFlush": false, "labelOverlap": false}}, "y": {"datum": 2.63, "type": "quantitative", "scale": {"domain": [0, 5], "nice": false, "zero": false}, "axis": {"values": [0,1,2,3,4,5], "labelExpr": "datum.value == 0 ? '.0' : format(datum.value, '.1f')", "title": null, "labelFlush": false, "labelOverlap": false}},
  "text": {"value": ["m", "A", "/", "C", "M", "2"]}}},
{"data": {"values": [{}]}, "mark": {"type": "text", "align": "left", "baseline": "top", "dx": 1, "dy": -21, "fontSize": 7.5, "color": "#444", "lineHeight": 8},
 "encoding": {"x": {"datum": 10, "type": "quantitative", "scale": {"domain": [0, 10], "nice": false, "zero": false}, "axis": {"values": [0,2,4,6,8,10], "labelExpr": "datum.value + '.'", "title": "Volts", "titleFontSize": 15, "titlePadding": 0, "labelPadding": 1, "labelFlush": false, "labelOverlap": false}}, "y": {"datum": 5, "type": "quantitative", "scale": {"domain": [0, 5], "nice": false, "zero": false}, "axis": {"values": [0,1,2,3,4,5], "labelExpr": "datum.value == 0 ? '.0' : format(datum.value, '.1f')", "title": null, "labelFlush": false, "labelOverlap": false}}, "text": {"value": ["Wafer:", "08522A01"]}}},
{"data": {"values": [{}]}, "mark": {"type": "text", "align": "right", "baseline": "middle", "dx": 37, "dy": 35, "fontSize": 6.2, "fontWeight": "bold", "color": "#1c1ca0"},
 "encoding": {"x": {"datum": 10, "type": "quantitative", "scale": {"domain": [0, 10], "nice": false, "zero": false}, "axis": {"values": [0,2,4,6,8,10], "labelExpr": "datum.value + '.'", "title": "Volts", "titleFontSize": 15, "titlePadding": 0, "labelPadding": 1, "labelFlush": false, "labelOverlap": false}}, "y": {"datum": 0, "type": "quantitative", "scale": {"domain": [0, 5], "nice": false, "zero": false}, "axis": {"values": [0,1,2,3,4,5], "labelExpr": "datum.value == 0 ? '.0' : format(datum.value, '.1f')", "title": null, "labelFlush": false, "labelOverlap": false}}, "text": {"value": "WAFER CHARGING MONITORS, INC."}}},
{"data": {"values": [{}]}, "mark": {"type": "text", "align": "center", "baseline": "middle", "dy": 46, "fontSize": 17, "font": "Liberation Serif", "color": "#000"},
 "encoding": {"x": {"datum": 4.45, "type": "quantitative", "scale": {"domain": [0, 10], "nice": false, "zero": false}, "axis": {"values": [0,2,4,6,8,10], "labelExpr": "datum.value + '.'", "title": "Volts", "titleFontSize": 15, "titlePadding": 0, "labelPadding": 1, "labelFlush": false, "labelOverlap": false}}, "y": {"datum": 0, "type": "quantitative", "scale": {"domain": [0, 5], "nice": false, "zero": false}, "axis": {"values": [0,1,2,3,4,5], "labelExpr": "datum.value == 0 ? '.0' : format(datum.value, '.1f')", "title": null, "labelFlush": false, "labelOverlap": false}}, "text": {"value": "(b)"}}}
]
},
{
"width": 222, "height": 188,
"layer": [
{"data": {"values": [{"g":1,"v":2.0,"j":4.0},{"g":1,"v":3.1,"j":4.0},{"g":2,"v":2.0,"j":3.0},{"g":2,"v":3.1,"j":3.0}]},
 "mark": {"type": "line", "color": "#000", "strokeWidth": 2.5, "strokeDash": [2, 3]},
 "encoding": {"x": {"field": "v", "type": "quantitative", "scale": {"domain": [0, 10], "nice": false, "zero": false}, "axis": {"values": [0,2,4,6,8,10], "labelExpr": "datum.value + '.'", "title": "Volts", "titleFontSize": 15, "titlePadding": 0, "labelPadding": 1, "labelFlush": false, "labelOverlap": false}},
  "y": {"field": "j", "type": "quantitative", "scale": {"domain": [0, 5], "nice": false, "zero": false}, "axis": {"values": [0,1,2,3,4,5], "labelExpr": "datum.value == 0 ? '.0' : format(datum.value, '.1f')", "title": null, "labelFlush": false, "labelOverlap": false}},
  "detail": {"field": "g"}}},
{"data": {"name": "c"}, "mark": {"type": "line", "strokeWidth": 2.5},
 "encoding": {"x": {"field": "v", "type": "quantitative", "scale": {"domain": [0, 10], "nice": false, "zero": false}, "axis": {"values": [0,2,4,6,8,10], "labelExpr": "datum.value + '.'", "title": "Volts", "titleFontSize": 15, "titlePadding": 0, "labelPadding": 1, "labelFlush": false, "labelOverlap": false}}, "y": {"field": "j", "type": "quantitative", "scale": {"domain": [0, 5], "nice": false, "zero": false}, "axis": {"values": [0,1,2,3,4,5], "labelExpr": "datum.value == 0 ? '.0' : format(datum.value, '.1f')", "title": null, "labelFlush": false, "labelOverlap": false}},
  "color": {"field": "d", "type": "nominal",
   "scale": {"domain": ["10,10 [1]","11,10 [2]","12,10 [3]","13,10 [4]","10,11 [5]","11,11 [6]","12,11 [7]","13,11 [8]","10,12 [9]","11,12 [10]","12,12 [11]","13,12 [12]","10,13 [13]","11,13 [14]","12,13 [15]","13,13 [16]"],
             "range": ["#000000","#ff0000","#00e000","#0000ff","#ff00ff","#00c8c8","#8b8b00","#7f7f7f","#8b0000","#007f00","#00007f","#8b008b","#008b8b","#a0522d","#4b4b4b","#9c8a2c"]},
   "legend": {"title": "Col,Row", "labelExpr": "slice(datum.label, 0, 9)"}}}},
{"data": {"name": "c"}, "mark": {"type": "text", "fontSize": 5.5, "dx": 4, "dy": -2, "align": "left"},
 "encoding": {"x": {"field": "v", "type": "quantitative", "scale": {"domain": [0, 10], "nice": false, "zero": false}, "axis": {"values": [0,2,4,6,8,10], "labelExpr": "datum.value + '.'", "title": "Volts", "titleFontSize": 15, "titlePadding": 0, "labelPadding": 1, "labelFlush": false, "labelOverlap": false}}, "y": {"field": "j", "type": "quantitative", "scale": {"domain": [0, 5], "nice": false, "zero": false}, "axis": {"values": [0,1,2,3,4,5], "labelExpr": "datum.value == 0 ? '.0' : format(datum.value, '.1f')", "title": null, "labelFlush": false, "labelOverlap": false}},
  "text": {"field": "n"}, "color": {"field": "d", "type": "nominal"}}},
{"data": {"values": [{}]}, "mark": {"type": "text", "align": "center", "baseline": "middle", "fontSize": 8.5, "color": "#333", "dy": -10},
 "encoding": {"x": {"datum": 5, "type": "quantitative", "scale": {"domain": [0, 10], "nice": false, "zero": false}, "axis": {"values": [0,2,4,6,8,10], "labelExpr": "datum.value + '.'", "title": "Volts", "titleFontSize": 15, "titlePadding": 0, "labelPadding": 1, "labelFlush": false, "labelOverlap": false}}, "y": {"datum": 5, "type": "quantitative", "scale": {"domain": [0, 5], "nice": false, "zero": false}, "axis": {"values": [0,1,2,3,4,5], "labelExpr": "datum.value == 0 ? '.0' : format(datum.value, '.1f')", "title": null, "labelFlush": false, "labelOverlap": false}}, "text": {"value": "J-V Plot:\u00a0 Multiple Die -\u00a0 Composite"}}},
{"data": {"values": [{}]}, "mark": {"type": "text", "align": "center", "baseline": "middle", "fontSize": 13, "fontWeight": "bold", "color": "#000"},
 "encoding": {"x": {"datum": -2.52, "type": "quantitative", "scale": {"domain": [0, 10], "nice": false, "zero": false}, "axis": {"values": [0,2,4,6,8,10], "labelExpr": "datum.value + '.'", "title": "Volts", "titleFontSize": 15, "titlePadding": 0, "labelPadding": 1, "labelFlush": false, "labelOverlap": false}}, "y": {"datum": 3.35, "type": "quantitative", "scale": {"domain": [0, 5], "nice": false, "zero": false}, "axis": {"values": [0,1,2,3,4,5], "labelExpr": "datum.value == 0 ? '.0' : format(datum.value, '.1f')", "title": null, "labelFlush": false, "labelOverlap": false}},
  "text": {"value": "J"}}},
{"data": {"values": [{}]}, "mark": {"type": "text", "align": "center", "baseline": "top", "fontSize": 13, "fontWeight": "bold", "color": "#000", "lineHeight": 12},
 "encoding": {"x": {"datum": -2.52, "type": "quantitative", "scale": {"domain": [0, 10], "nice": false, "zero": false}, "axis": {"values": [0,2,4,6,8,10], "labelExpr": "datum.value + '.'", "title": "Volts", "titleFontSize": 15, "titlePadding": 0, "labelPadding": 1, "labelFlush": false, "labelOverlap": false}}, "y": {"datum": 2.63, "type": "quantitative", "scale": {"domain": [0, 5], "nice": false, "zero": false}, "axis": {"values": [0,1,2,3,4,5], "labelExpr": "datum.value == 0 ? '.0' : format(datum.value, '.1f')", "title": null, "labelFlush": false, "labelOverlap": false}},
  "text": {"value": ["m", "A", "/", "C", "M", "2"]}}},
{"data": {"values": [{}]}, "mark": {"type": "text", "align": "left", "baseline": "top", "dx": 1, "dy": -21, "fontSize": 7.5, "color": "#444", "lineHeight": 8},
 "encoding": {"x": {"datum": 10, "type": "quantitative", "scale": {"domain": [0, 10], "nice": false, "zero": false}, "axis": {"values": [0,2,4,6,8,10], "labelExpr": "datum.value + '.'", "title": "Volts", "titleFontSize": 15, "titlePadding": 0, "labelPadding": 1, "labelFlush": false, "labelOverlap": false}}, "y": {"datum": 5, "type": "quantitative", "scale": {"domain": [0, 5], "nice": false, "zero": false}, "axis": {"values": [0,1,2,3,4,5], "labelExpr": "datum.value == 0 ? '.0' : format(datum.value, '.1f')", "title": null, "labelFlush": false, "labelOverlap": false}}, "text": {"value": ["Wafer:", "44422A02"]}}},
{"data": {"values": [{}]}, "mark": {"type": "text", "align": "right", "baseline": "middle", "dx": 37, "dy": 35, "fontSize": 6.2, "fontWeight": "bold", "color": "#1c1ca0"},
 "encoding": {"x": {"datum": 10, "type": "quantitative", "scale": {"domain": [0, 10], "nice": false, "zero": false}, "axis": {"values": [0,2,4,6,8,10], "labelExpr": "datum.value + '.'", "title": "Volts", "titleFontSize": 15, "titlePadding": 0, "labelPadding": 1, "labelFlush": false, "labelOverlap": false}}, "y": {"datum": 0, "type": "quantitative", "scale": {"domain": [0, 5], "nice": false, "zero": false}, "axis": {"values": [0,1,2,3,4,5], "labelExpr": "datum.value == 0 ? '.0' : format(datum.value, '.1f')", "title": null, "labelFlush": false, "labelOverlap": false}}, "text": {"value": "WAFER CHARGING MONITORS, INC."}}},
{"data": {"values": [{}]}, "mark": {"type": "text", "align": "center", "baseline": "middle", "dy": 46, "fontSize": 17, "font": "Liberation Serif", "color": "#000"},
 "encoding": {"x": {"datum": 4.45, "type": "quantitative", "scale": {"domain": [0, 10], "nice": false, "zero": false}, "axis": {"values": [0,2,4,6,8,10], "labelExpr": "datum.value + '.'", "title": "Volts", "titleFontSize": 15, "titlePadding": 0, "labelPadding": 1, "labelFlush": false, "labelOverlap": false}}, "y": {"datum": 0, "type": "quantitative", "scale": {"domain": [0, 5], "nice": false, "zero": false}, "axis": {"values": [0,1,2,3,4,5], "labelExpr": "datum.value == 0 ? '.0' : format(datum.value, '.1f')", "title": null, "labelFlush": false, "labelOverlap": false}}, "text": {"value": "(c)"}}}
]
}
],
"config": {
"font": "Liberation Sans",
"view": {"stroke": "#a0a0a0", "strokeWidth": 1.5},
"axis": {"grid": true, "gridDash": [2, 2], "gridColor": "#666", "gridWidth": 0.8, "domainColor": "#a8a8a8", "domainWidth": 2.5, "ticks": false, "labelFont": "Liberation Sans", "labelFontSize": 15, "labelFontWeight": "bold", "labelColor": "#000", "labelPadding": 2, "titleFont": "Liberation Sans", "titleFontWeight": "bold", "titleColor": "#000"},
"legend": {"orient": "right", "offset": 6, "padding": 1, "titleFont": "Liberation Sans Narrow, DejaVu Sans Condensed, Liberation Sans", "titleFontSize": 6.5, "titleFontWeight": "bold", "titleColor": "#000", "titlePadding": 2, "labelFont": "Liberation Sans Narrow, DejaVu Sans Condensed, Liberation Sans", "labelFontSize": 6.5, "labelFontWeight": "bold", "labelColor": "#000", "symbolSize": 0, "symbolStrokeWidth": 0, "symbolOpacity": 0, "labelOffset": 0, "rowPadding": 1.8},
"text": {"font": "Liberation Sans"}
}
}
